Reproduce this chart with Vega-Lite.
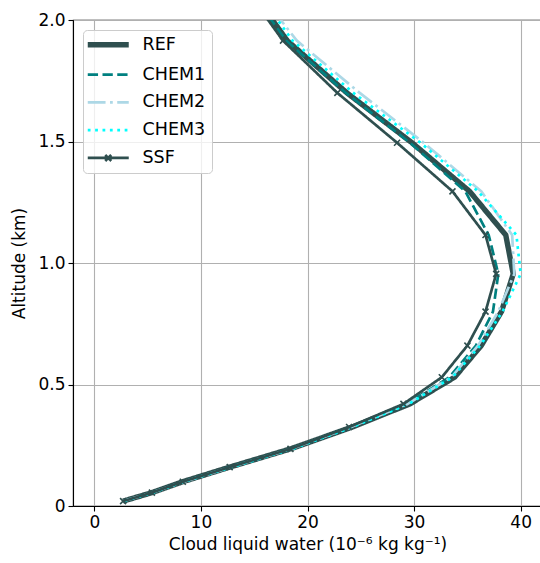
{
  "$schema": "https://vega.github.io/schema/vega-lite/v6.json",
  "width": 469,
  "height": 486,
  "autosize": "none",
  "padding": {"left": 73, "top": 20, "right": 0, "bottom": 57},
  "background": "white",
  "config": {
    "font": "DejaVu Sans",
    "view": {"stroke": "black", "strokeWidth": 1.1},
    "axis": {
      "domainColor": "black", "domainWidth": 1.1,
      "tickColor": "black", "tickSize": 5, "tickWidth": 1.1,
      "labelFont": "DejaVu Sans", "labelFontSize": 17, "labelColor": "black", "labelPadding": 3,
      "titleFont": "DejaVu Sans", "titleFontSize": 17, "titleFontWeight": "normal", "titleColor": "black",
      "gridColor": "#b0b0b0", "gridWidth": 1.1
    }
  },
  "data": {
    "values": [
      {"series": "REF", "altitude": 0.02, "lwc": 2.7},
      {"series": "REF", "altitude": 0.055, "lwc": 5.4},
      {"series": "REF", "altitude": 0.10, "lwc": 8.3},
      {"series": "REF", "altitude": 0.16, "lwc": 12.7},
      {"series": "REF", "altitude": 0.235, "lwc": 18.4},
      {"series": "REF", "altitude": 0.325, "lwc": 24.2},
      {"series": "REF", "altitude": 0.42, "lwc": 29.6},
      {"series": "REF", "altitude": 0.53, "lwc": 33.8},
      {"series": "REF", "altitude": 0.66, "lwc": 36.3},
      {"series": "REF", "altitude": 0.80, "lwc": 38.2},
      {"series": "REF", "altitude": 0.955, "lwc": 39.3},
      {"series": "REF", "altitude": 1.115, "lwc": 38.6},
      {"series": "REF", "altitude": 1.295, "lwc": 35.2},
      {"series": "REF", "altitude": 1.495, "lwc": 29.8},
      {"series": "REF", "altitude": 1.70, "lwc": 23.7},
      {"series": "REF", "altitude": 1.915, "lwc": 18.1},
      {"series": "REF", "altitude": 2.14, "lwc": 14.4},
      {"series": "CHEM1", "altitude": 0.02, "lwc": 2.7},
      {"series": "CHEM1", "altitude": 0.055, "lwc": 5.4},
      {"series": "CHEM1", "altitude": 0.10, "lwc": 8.3},
      {"series": "CHEM1", "altitude": 0.16, "lwc": 12.7},
      {"series": "CHEM1", "altitude": 0.235, "lwc": 18.4},
      {"series": "CHEM1", "altitude": 0.325, "lwc": 24.0},
      {"series": "CHEM1", "altitude": 0.42, "lwc": 29.3},
      {"series": "CHEM1", "altitude": 0.53, "lwc": 33.3},
      {"series": "CHEM1", "altitude": 0.66, "lwc": 35.8},
      {"series": "CHEM1", "altitude": 0.80, "lwc": 37.4},
      {"series": "CHEM1", "altitude": 0.955, "lwc": 37.9},
      {"series": "CHEM1", "altitude": 1.115, "lwc": 37.0},
      {"series": "CHEM1", "altitude": 1.295, "lwc": 34.8},
      {"series": "CHEM1", "altitude": 1.495, "lwc": 29.6},
      {"series": "CHEM1", "altitude": 1.70, "lwc": 23.6},
      {"series": "CHEM1", "altitude": 1.915, "lwc": 18.0},
      {"series": "CHEM1", "altitude": 2.14, "lwc": 14.3},
      {"series": "CHEM2", "altitude": 0.02, "lwc": 2.7},
      {"series": "CHEM2", "altitude": 0.055, "lwc": 5.4},
      {"series": "CHEM2", "altitude": 0.10, "lwc": 8.4},
      {"series": "CHEM2", "altitude": 0.16, "lwc": 12.8},
      {"series": "CHEM2", "altitude": 0.235, "lwc": 18.5},
      {"series": "CHEM2", "altitude": 0.325, "lwc": 24.1},
      {"series": "CHEM2", "altitude": 0.42, "lwc": 29.4},
      {"series": "CHEM2", "altitude": 0.53, "lwc": 33.5},
      {"series": "CHEM2", "altitude": 0.66, "lwc": 36.0},
      {"series": "CHEM2", "altitude": 0.80, "lwc": 37.9},
      {"series": "CHEM2", "altitude": 0.955, "lwc": 39.4},
      {"series": "CHEM2", "altitude": 1.115, "lwc": 39.2},
      {"series": "CHEM2", "altitude": 1.295, "lwc": 36.3},
      {"series": "CHEM2", "altitude": 1.495, "lwc": 30.9},
      {"series": "CHEM2", "altitude": 1.70, "lwc": 24.9},
      {"series": "CHEM2", "altitude": 1.915, "lwc": 19.0},
      {"series": "CHEM2", "altitude": 2.14, "lwc": 15.0},
      {"series": "CHEM3", "altitude": 0.02, "lwc": 2.8},
      {"series": "CHEM3", "altitude": 0.055, "lwc": 5.5},
      {"series": "CHEM3", "altitude": 0.10, "lwc": 8.4},
      {"series": "CHEM3", "altitude": 0.16, "lwc": 12.9},
      {"series": "CHEM3", "altitude": 0.235, "lwc": 18.6},
      {"series": "CHEM3", "altitude": 0.325, "lwc": 24.2},
      {"series": "CHEM3", "altitude": 0.42, "lwc": 29.5},
      {"series": "CHEM3", "altitude": 0.53, "lwc": 33.6},
      {"series": "CHEM3", "altitude": 0.66, "lwc": 36.2},
      {"series": "CHEM3", "altitude": 0.80, "lwc": 38.3},
      {"series": "CHEM3", "altitude": 0.955, "lwc": 40.0},
      {"series": "CHEM3", "altitude": 1.115, "lwc": 39.6},
      {"series": "CHEM3", "altitude": 1.295, "lwc": 36.0},
      {"series": "CHEM3", "altitude": 1.495, "lwc": 30.6},
      {"series": "CHEM3", "altitude": 1.70, "lwc": 24.3},
      {"series": "CHEM3", "altitude": 1.915, "lwc": 18.6},
      {"series": "CHEM3", "altitude": 2.14, "lwc": 14.9},
      {"series": "SSF", "altitude": 0.02, "lwc": 2.7},
      {"series": "SSF", "altitude": 0.055, "lwc": 5.4},
      {"series": "SSF", "altitude": 0.10, "lwc": 8.3},
      {"series": "SSF", "altitude": 0.16, "lwc": 12.7},
      {"series": "SSF", "altitude": 0.235, "lwc": 18.4},
      {"series": "SSF", "altitude": 0.325, "lwc": 23.9},
      {"series": "SSF", "altitude": 0.42, "lwc": 29.0},
      {"series": "SSF", "altitude": 0.53, "lwc": 32.6},
      {"series": "SSF", "altitude": 0.66, "lwc": 35.0},
      {"series": "SSF", "altitude": 0.80, "lwc": 36.7},
      {"series": "SSF", "altitude": 0.955, "lwc": 37.7},
      {"series": "SSF", "altitude": 1.115, "lwc": 36.7},
      {"series": "SSF", "altitude": 1.295, "lwc": 33.6},
      {"series": "SSF", "altitude": 1.495, "lwc": 28.4},
      {"series": "SSF", "altitude": 1.70, "lwc": 22.8},
      {"series": "SSF", "altitude": 1.915, "lwc": 17.7},
      {"series": "SSF", "altitude": 2.14, "lwc": 14.0}
    ]
  },
  "encoding": {
    "x": {
      "field": "lwc", "type": "quantitative",
      "scale": {"domain": [-2, 42], "nice": false, "zero": false},
      "axis": {"values": [0, 10, 20, 30, 40], "title": "Cloud liquid water (10⁻⁶ kg kg⁻¹)", "titlePadding": 6}
    },
    "y": {
      "field": "altitude", "type": "quantitative",
      "scale": {"domain": [0, 2], "nice": false},
      "axis": {"values": [0, 0.5, 1, 1.5, 2], "title": "Altitude (km)", "titlePadding": 9,
               "labelExpr": "datum.value == 0 ? '0' : format(datum.value, '.1f')"}
    }
  },
  "layer": [
    {
      "mark": {"type": "line", "clip": true, "strokeCap": "butt", "strokeJoin": "round"},
      "encoding": {
        "order": {"field": "altitude", "type": "quantitative"},
        "color": {
          "field": "series", "type": "nominal",
          "scale": {"domain": ["REF", "CHEM1", "CHEM2", "CHEM3", "SSF"],
                    "range": ["#2f4f4f", "#008080", "#add8e6", "#00ffff", "#2f4f4f"]},
          "legend": {
            "title": null, "orient": "top-left", "offset": 10,
            "fillColor": "rgba(255,255,255,0.8)", "strokeColor": "#cccccc", "cornerRadius": 4, "padding": 6,
            "labelFontSize": 17.5, "labelFont": "DejaVu Sans", "labelColor": "black",
            "symbolSize": 16, "labelOffset": 36, "rowPadding": 8.8,
            "encode": {
              "symbols": {
                "update": {
                  "shape": {"signal": "datum.value === 'SSF' ? 'M-5,0L15.5,0M3.75,-1.5L6.75,1.5M3.75,1.5L6.75,-1.5' : 'M-5,0L15.5,0'"},
                  "strokeWidth": {"signal": "datum.value === 'REF' ? 5.4 : 2.7"},
                  "fill": {"value": "transparent"}
                }
              }
            }
          }
        },
        "strokeDash": {
          "field": "series", "type": "nominal",
          "scale": {"domain": ["REF", "CHEM1", "CHEM2", "CHEM3", "SSF"],
                    "range": [[1, 0], [10.3, 4.45], [17.8, 4.45, 2.78, 4.45], [2.78, 4.6], [1, 0]]},
          "legend": {
            "title": null, "orient": "top-left", "offset": 10,
            "fillColor": "rgba(255,255,255,0.8)", "strokeColor": "#cccccc", "cornerRadius": 4, "padding": 6,
            "labelFontSize": 17.5, "labelFont": "DejaVu Sans", "labelColor": "black",
            "symbolSize": 16, "labelOffset": 36, "rowPadding": 8.8,
            "encode": {
              "symbols": {
                "update": {
                  "shape": {"signal": "datum.value === 'SSF' ? 'M-5,0L15.5,0M3.75,-1.5L6.75,1.5M3.75,1.5L6.75,-1.5' : 'M-5,0L15.5,0'"},
                  "strokeWidth": {"signal": "datum.value === 'REF' ? 5.4 : 2.7"},
                  "fill": {"value": "transparent"}
                }
              }
            }
          }
        },
        "strokeWidth": {
          "condition": {"test": "datum.series === 'REF'", "value": 5.4},
          "value": 2.7
        }
      }
    },
    {
      "transform": [{"filter": "datum.series === 'SSF'"}],
      "mark": {"type": "point", "clip": true, "filled": false, "shape": "M-1,-1L1,1M-1,1L1,-1",
               "size": 36, "stroke": "#2f4f4f", "strokeWidth": 1.6, "opacity": 1}
    }
  ]
}
